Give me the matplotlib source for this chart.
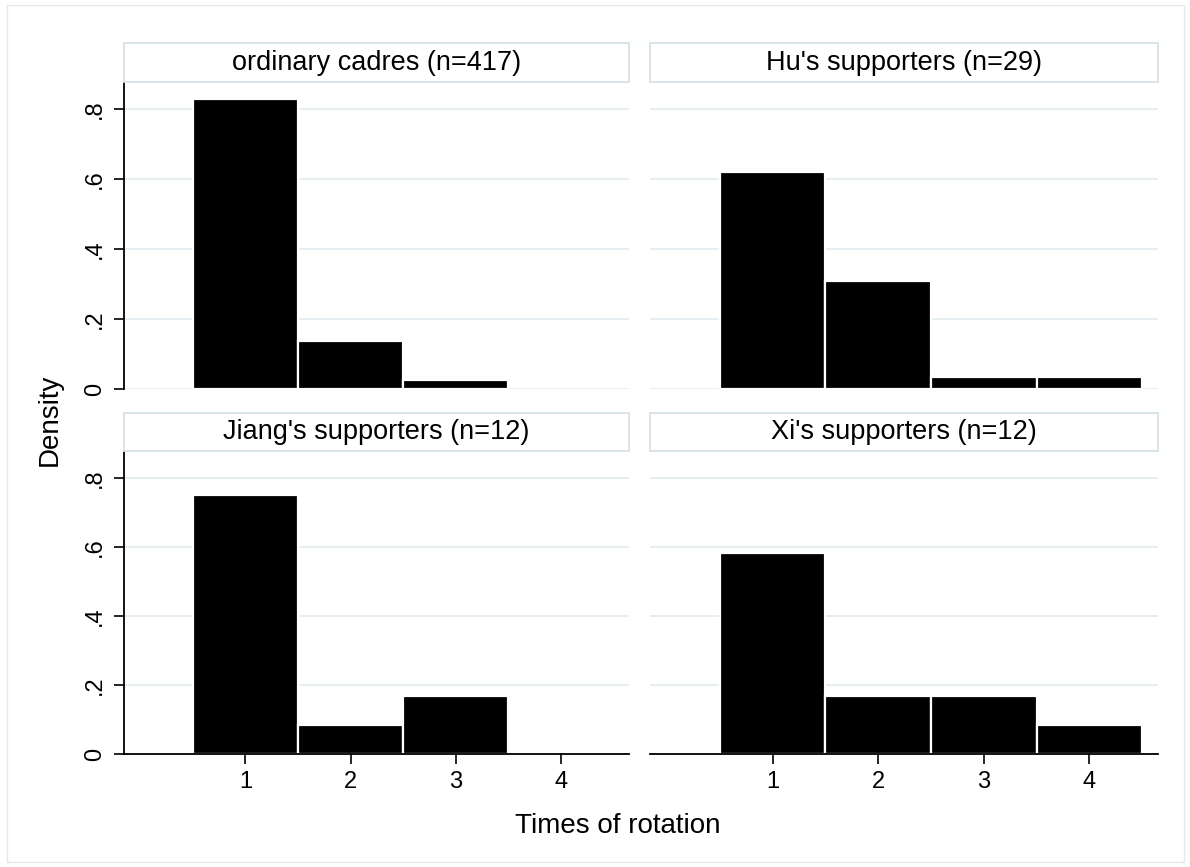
import matplotlib
matplotlib.use("Agg")
import matplotlib.pyplot as plt
from matplotlib.patches import Rectangle

plt.rcParams['font.family'] = ['Liberation Sans', 'DejaVu Sans']

# ---- data ----
categories = [1, 2, 3, 4]
panel_titles = ["ordinary cadres (n=417)", "Hu's supporters (n=29)",
                "Jiang's supporters (n=12)", "Xi's supporters (n=12)"]
ordinary = [0.830, 0.137, 0.026, 0.0]
hu = [0.620, 0.310, 0.0345, 0.0345]
jiang = [0.750, 0.0833, 0.1667, 0.0]
xi = [0.583, 0.1667, 0.1667, 0.0833]
series = [ordinary, hu, jiang, xi]
yticks = [0, 0.2, 0.4, 0.6, 0.8]
ytick_labels = ["0", ".2", ".4", ".6", ".8"]
xlabel = "Times of rotation"
ylabel = "Density"

W, H = 1190, 867
fig = plt.figure(figsize=(W / 100, H / 100), dpi=100)

def fx(px):
    return px / W

def fy(py):
    return 1 - py / H

grid_c = "#e6eef1"
box_c = "#d6e2e7"

# outer border
fig.add_artist(Rectangle((fx(7), fy(862)), fx(1184) - fx(7), fy(5) - fy(862),
                         transform=fig.transFigure, fill=False,
                         edgecolor="#e3eaed", lw=1.0))

# panel pixel geometry
cols = [(123.5, 629), (650, 1158)]
rows = [(43, 82, 389), (413, 451, 754)]

for i, (vals, title) in enumerate(zip(series, panel_titles)):
    r, c = divmod(i, 2)
    l, rt = cols[c]
    tt, pt, pb = rows[r]
    ax = fig.add_axes([fx(l), fy(pb), fx(rt) - fx(l), fy(pt) - fy(pb)])
    xs = [x for x, v in zip(categories, vals) if v > 0]
    hs = [v for v in vals if v > 0]
    ax.bar(xs, hs, width=1.0, color="black", edgecolor="white",
           linewidth=1.6, zorder=3)
    ax.set_xlim(-0.16, 4.65)
    ax.set_ylim(0, 0.878)
    ax.set_yticks(yticks)
    ax.set_xticks(categories)
    ax.grid(axis="y", color=grid_c, lw=1.4, zorder=0)
    ax.set_axisbelow(True)
    for s in ax.spines.values():
        s.set_visible(False)
        s.set_zorder(5)
    if c == 0:
        ax.spines["left"].set_visible(True)
        ax.spines["left"].set_linewidth(1.3)
        ax.set_yticklabels(ytick_labels, rotation=90, va="center", fontsize=17)
        ax.tick_params(axis="y", length=7.5, width=1.2, pad=5)
    else:
        ax.tick_params(axis="y", length=0, labelleft=False)
    if r == 1:
        ax.spines["bottom"].set_visible(True)
        ax.spines["bottom"].set_linewidth(1.3)
        ax.set_xticklabels([str(v) for v in categories], fontsize=17)
        ax.tick_params(axis="x", length=7.5, width=1.2, pad=5)
    else:
        ax.tick_params(axis="x", length=0, labelbottom=False)
    # title box
    fig.add_artist(Rectangle((fx(l), fy(pt)), fx(rt) - fx(l), fy(tt) - fy(pt),
                             transform=fig.transFigure, facecolor="white",
                             edgecolor=box_c, lw=1.3))
    fig.text(fx((l + rt) / 2), fy((tt + pt) / 2), title, ha="center",
             va="center", fontsize=19.5)

fig.text(fx(50), fy(420), ylabel, rotation=90, ha="center", va="center",
         fontsize=20)
fig.text(fx(618), fy(826), xlabel, ha="center", va="center", fontsize=20)

fig.savefig("out.png", dpi=100, facecolor="white")
